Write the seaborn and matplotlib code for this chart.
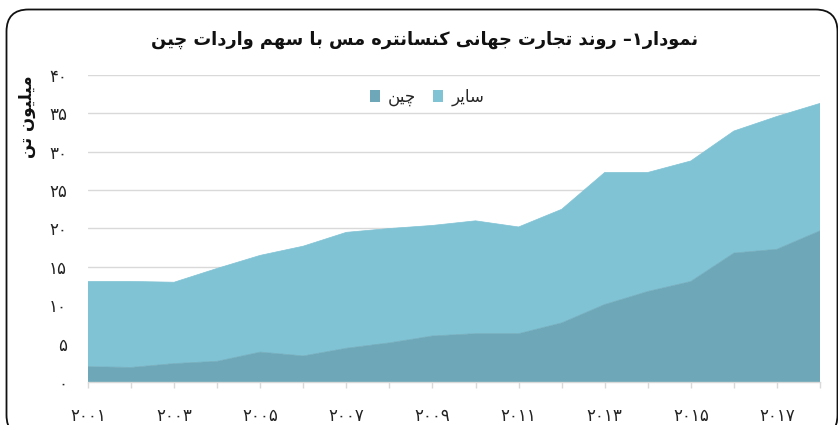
import matplotlib
matplotlib.use("Agg")
import matplotlib.pyplot as plt
import seaborn as sns
import pandas as pd
from matplotlib.patches import FancyBboxPatch

# ---------------- data ----------------
years = list(range(2001, 2019))
china = [2.0, 1.9, 2.4, 2.7, 3.9, 3.4, 4.4, 5.1, 6.0, 6.3, 6.3, 7.7, 10.1, 11.8, 13.1, 16.8, 17.3, 19.7]
other = [11.1, 11.2, 10.6, 12.1, 12.6, 14.3, 15.1, 14.9, 14.4, 14.7, 13.9, 14.8, 17.2, 15.5, 15.7, 15.9, 17.3, 16.6]
y_ticks = [0, 5, 10, 15, 20, 25, 30, 35, 40]
title_text = "نمودار۱– روند تجارت جهانی کنسانتره مس با سهم واردات چین"
ylabel_text = "میلیون تن"
label_china = "چین"
label_other = "سایر"

# ---------------- minimal Persian shaping ----------------
FORMS = {
    'ا': ('\uFE8D', '\uFE8E', None, None),
    'ب': ('\uFE8F', '\uFE90', '\uFE91', '\uFE92'),
    'ت': ('\uFE95', '\uFE96', '\uFE97', '\uFE98'),
    'ج': ('\uFE9D', '\uFE9E', '\uFE9F', '\uFEA0'),
    'چ': ('\uFB7A', '\uFB7B', '\uFB7C', '\uFB7D'),
    'د': ('\uFEA9', '\uFEAA', None, None),
    'ر': ('\uFEAD', '\uFEAE', None, None),
    'س': ('\uFEB1', '\uFEB2', '\uFEB3', '\uFEB4'),
    'ک': ('\uFB8E', '\uFB8F', '\uFB90', '\uFB91'),
    'ل': ('\uFEDD', '\uFEDE', '\uFEDF', '\uFEE0'),
    'م': ('\uFEE1', '\uFEE2', '\uFEE3', '\uFEE4'),
    'ن': ('\uFEE5', '\uFEE6', '\uFEE7', '\uFEE8'),
    'ه': ('\uFEE9', '\uFEEA', '\uFEEB', '\uFEEC'),
    'و': ('\uFEED', '\uFEEE', None, None),
    'ی': ('\uFBFC', '\uFBFD', '\uFBFE', '\uFBFF'),
}


def shape(s):
    out = []
    n = len(s)
    for i, c in enumerate(s):
        if c not in FORMS:
            out.append(c)
            continue
        f = FORMS[c]
        prev = s[i - 1] if i > 0 else None
        nxt = s[i + 1] if i < n - 1 else None
        jp = prev in FORMS and FORMS[prev][2] is not None
        jn = f[2] is not None and nxt in FORMS
        if jp and jn:
            out.append(f[3])
        elif jp:
            out.append(f[1])
        elif jn:
            out.append(f[2])
        else:
            out.append(f[0])
    return ''.join(reversed(out))


PDIG = str.maketrans("0123456789", "۰۱۲۳۴۵۶۷۸۹")


def fa_num(v):
    return str(v).translate(PDIG)


# ---------------- plot ----------------
sns.set_theme(style="white")
plt.rcParams['font.family'] = ['DejaVu Sans']

C_CHINA = "#6ea8b8"
C_OTHER = "#80c3d5"
GRID = "#d9d9d9"

fig = plt.figure(figsize=(8.38, 4.25), dpi=100)
ax = fig.add_axes([88 / 838, (425 - 382) / 425, (820 - 88) / 838, (382 - 75) / 425])

df = pd.DataFrame({"year": years, "china": china, "other": other})
df["total"] = df["china"] + df["other"]

ax.stackplot(df["year"], df["china"], df["other"], colors=[C_CHINA, C_OTHER],
             labels=[shape(label_china), shape(label_other)], zorder=2,
             edgecolor="none", linewidth=0)
sns.lineplot(data=df, x="year", y="china", color=C_CHINA, lw=0.5, ax=ax, zorder=3, legend=False)
sns.lineplot(data=df, x="year", y="total", color=C_OTHER, lw=0.5, ax=ax, zorder=3, legend=False)
if ax.get_legend() is not None:
    ax.get_legend().remove()

ax.set_xlim(2001, 2018)
ax.set_ylim(0, 40)
ax.set_yticks(y_ticks)
ax.set_yticklabels([fa_num(v) for v in y_ticks], fontsize=12)
ax.set_xticks(years)
ax.set_xticklabels([fa_num(y) if (y - 2001) % 2 == 0 else "" for y in years], fontsize=12)
ax.set_xlabel("")
ax.set_ylabel("")

ax.grid(axis="y", color=GRID, lw=1, zorder=0)
ax.set_axisbelow(True)
for s in ["top", "right", "left"]:
    ax.spines[s].set_visible(False)
ax.spines["bottom"].set_color(GRID)
ax.spines["bottom"].set_linewidth(1)
ax.spines["bottom"].set_zorder(4)
ax.tick_params(axis="y", length=0, pad=15, colors="#222222")
ax.tick_params(axis="x", length=4, width=1, color=GRID, pad=14, labelcolor="#222222",
               bottom=True)

handles, labels = ax.get_legend_handles_labels()
handles, labels = handles[:2], labels[:2]
leg = fig.legend(handles, labels, loc="center", bbox_to_anchor=(427 / 838, (425 - 97) / 425),
                 ncol=2, frameon=False, fontsize=12, handlelength=0.6, handleheight=0.65,
                 handletextpad=0.5, columnspacing=1.0)

fig.text(425 / 838, (425 - 40) / 425, shape(title_text), ha="center", va="center",
         fontsize=12.8, fontweight="bold", color="#111111")
fig.text(27 / 838, (425 - 117) / 425, shape(ylabel_text), ha="center", va="center",
         rotation=90, fontsize=12, fontweight="bold", color="#111111")

frame = FancyBboxPatch((6.5, -12), 831, 427.5, boxstyle="round,pad=0,rounding_size=22",
                       transform=None, fill=False, edgecolor="#111111", lw=1.3, zorder=10)
fig.add_artist(frame)

fig.savefig("out.png", dpi=100)
